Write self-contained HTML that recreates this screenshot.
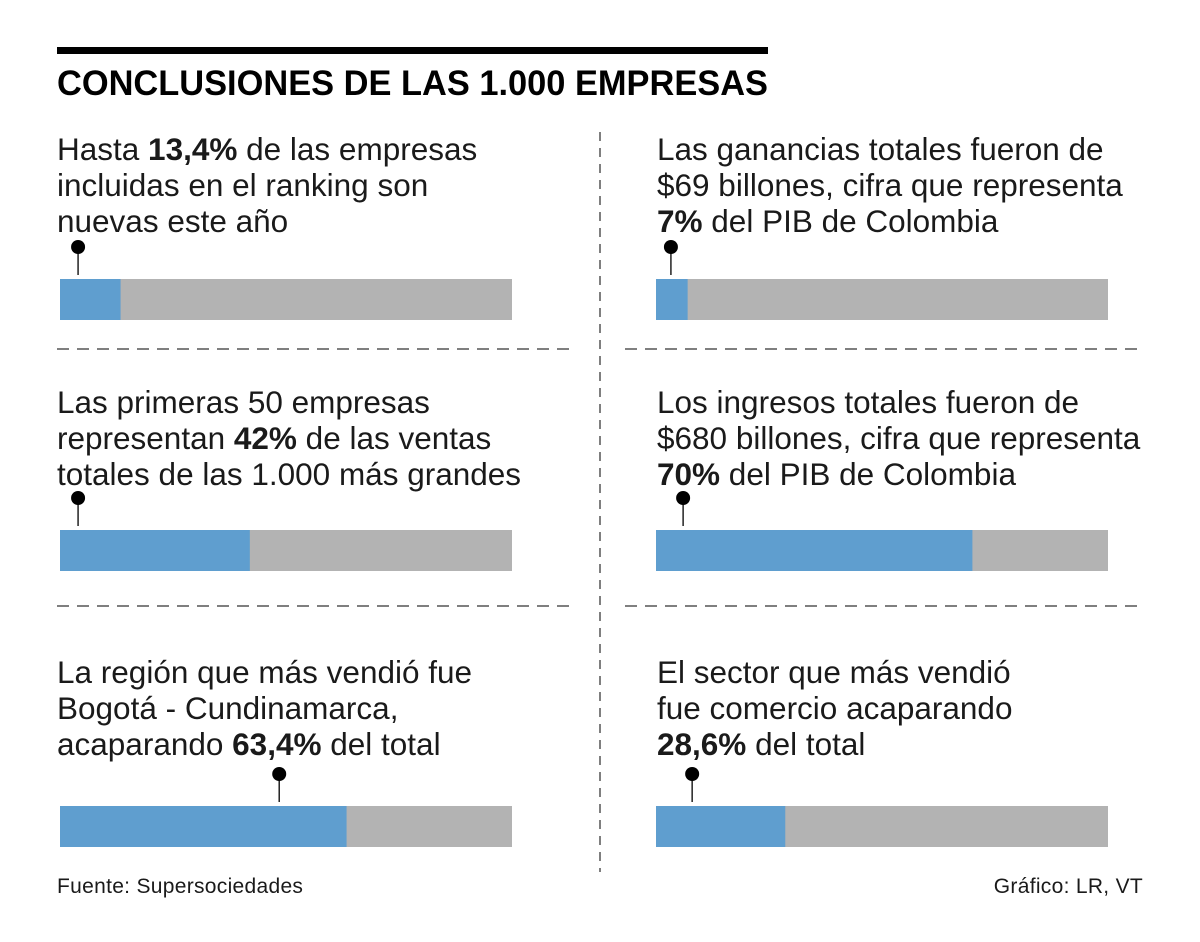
<!DOCTYPE html>
<html><head><meta charset="utf-8">
<style>
html,body{margin:0;padding:0;background:#fff;}
svg{display:block;font-family:"Liberation Sans",sans-serif;}
.t{font-size:31.5px;fill:#1a1a1a;letter-spacing:0px;}
.b{font-weight:bold;}
</style></head>
<body>
<svg id="chart" width="1200" height="942" viewBox="0 0 1200 942">
  <rect x="57" y="47" width="711" height="7" fill="#000"/>
  <text x="57" y="95" font-size="35" font-weight="bold" textLength="711" lengthAdjust="spacingAndGlyphs" fill="#000">CONCLUSIONES DE LAS 1.000 EMPRESAS</text>
  <line x1="600" y1="132" x2="600" y2="872" stroke="#555" stroke-width="1.5" stroke-dasharray="9,7"/>
  <line x1="57" y1="349" x2="570" y2="349" stroke="#555" stroke-width="1.5" stroke-dasharray="12,8"/>
  <line x1="57" y1="606" x2="570" y2="606" stroke="#555" stroke-width="1.5" stroke-dasharray="12,8"/>
  <line x1="625" y1="349" x2="1140" y2="349" stroke="#555" stroke-width="1.5" stroke-dasharray="12,8"/>
  <line x1="625" y1="606" x2="1140" y2="606" stroke="#555" stroke-width="1.5" stroke-dasharray="12,8"/>

  <g>
    <text class="t" x="57" y="160">Hasta <tspan class="b">13,4%</tspan> de las empresas</text>
    <text class="t" x="57" y="196">incluidas en el ranking son</text>
    <text class="t" x="57" y="232">nuevas este año</text>
  </g>
  <g>
    <text class="t" x="57" y="413">Las primeras 50 empresas</text>
    <text class="t" x="57" y="449">representan <tspan class="b">42%</tspan> de las ventas</text>
    <text class="t" x="57" y="485">totales de las 1.000 más grandes</text>
  </g>
  <g>
    <text class="t" x="57" y="683">La región que más vendió fue</text>
    <text class="t" x="57" y="719">Bogotá - Cundinamarca,</text>
    <text class="t" x="57" y="755">acaparando <tspan class="b">63,4%</tspan> del total</text>
  </g>
  <g>
    <text class="t" x="657" y="160">Las ganancias totales fueron de</text>
    <text class="t" x="657" y="196">$69 billones, cifra que representa</text>
    <text class="t" x="657" y="232"><tspan class="b">7%</tspan> del PIB de Colombia</text>
  </g>
  <g>
    <text class="t" x="657" y="413">Los ingresos totales fueron de</text>
    <text class="t" x="657" y="449">$680 billones, cifra que representa</text>
    <text class="t" x="657" y="485"><tspan class="b">70%</tspan> del PIB de Colombia</text>
  </g>
  <g>
    <text class="t" x="657" y="683">El sector que más vendió</text>
    <text class="t" x="657" y="719">fue comercio acaparando</text>
    <text class="t" x="657" y="755"><tspan class="b">28,6%</tspan> del total</text>
  </g>

  <g id="bars"></g>

  <text x="57" y="893" font-size="21" fill="#1a1a1a" letter-spacing="0.3">Fuente: Supersociedades</text>
  <text x="1143" y="893" font-size="21" fill="#1a1a1a" letter-spacing="0.3" text-anchor="end">Gráfico: LR, VT</text>
</svg>
<script>
const categories = ["nuevas", "top50", "bogota", "ganancias", "ingresos", "comercio"];
const values = [13.4, 42, 63.4, 7, 70, 28.6];
const panelCol = [0, 0, 0, 1, 1, 1];
const panelRow = [0, 1, 2, 0, 1, 2];
const pinAt = [4, 4, 48.5, 3.3, 6, 8];

const NS = "http://www.w3.org/2000/svg";
const colX = [60, 656], rowY = [279, 530, 806], barW = 452, barH = 41;
function xScale(col, v){ return colX[col] + v / 100 * barW; }
const g = document.getElementById("bars");
function mk(tag, attrs){ const e = document.createElementNS(NS, tag); for (const k in attrs) e.setAttribute(k, attrs[k]); g.appendChild(e); return e; }
categories.forEach((c, i) => {
  const col = panelCol[i], y = rowY[panelRow[i]];
  const bg = mk("rect", {x: colX[col], y: y, width: barW, height: barH, fill: "#b3b3b3"});
  
  
  const fg = mk("rect", {x: colX[col], y: y, width: xScale(col, values[i]) - colX[col], height: barH, fill: "#5f9ecf"});
  
  
  const px = xScale(col, pinAt[i]);
  const ln = mk("line", {x1: px, y1: y - 32, x2: px, y2: y - 4, stroke: "#222", "stroke-width": 1.5});
  
  
  const ci = mk("circle", {cx: px, cy: y - 32, r: 7, fill: "#000"});
  
  
});
</script>
</body></html>
